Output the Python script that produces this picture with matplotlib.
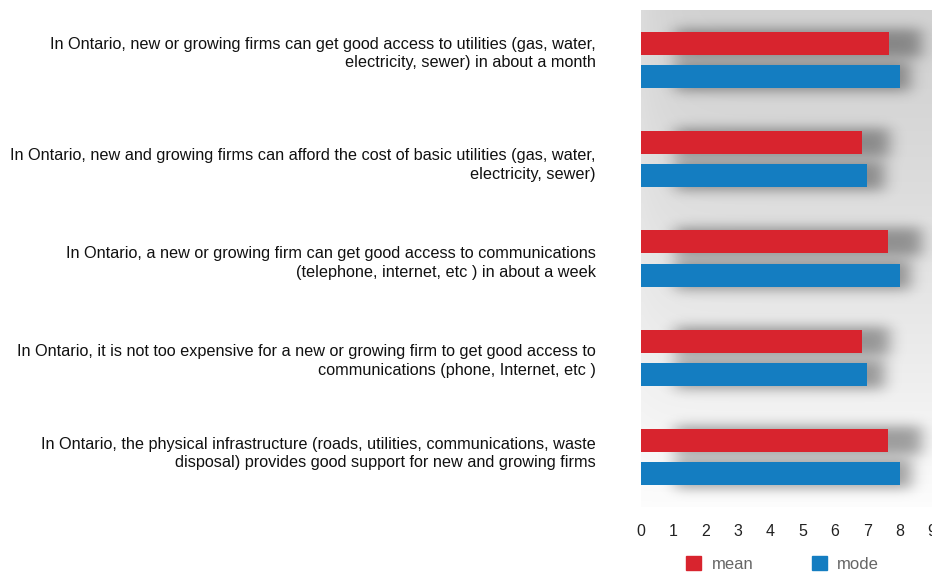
import numpy as np
import math
import matplotlib
matplotlib.use("Agg")
import matplotlib.pyplot as plt
from matplotlib.patches import Patch

categories = [
    "In Ontario, new or growing firms can get good access to utilities (gas, water,\nelectricity, sewer) in about a month",
    "In Ontario, new and growing firms can afford the cost of basic utilities (gas, water,\nelectricity, sewer)",
    "In Ontario, a new or growing firm can get good access to communications\n(telephone, internet, etc ) in about a week",
    "In Ontario, it is not too expensive for a new or growing firm to get good access to\ncommunications (phone, Internet, etc )",
    "In Ontario, the physical infrastructure (roads, utilities, communications, waste\ndisposal) provides good support for new and growing firms",
]
mean_values = [7.68, 6.84, 7.65, 6.84, 7.65]
mode_values = [8, 7, 8, 7, 8]
series_names = ["mean", "mode"]
x_ticks = [0, 1, 2, 3, 4, 5, 6, 7, 8, 9]

RED = "#d8242e"
BLUE = "#147dc1"

plt.rcParams['font.family'] = ['Liberation Sans', 'DejaVu Sans']

W, H = 932, 573
fig = plt.figure(figsize=(W / 100, H / 100), dpi=100)
ax_left, ax_right = 641 / W, 932 / W
ax_top, ax_bottom = 1 - 10 / H, 1 - 507 / H
ax = fig.add_axes([ax_left, ax_bottom, ax_right - ax_left, ax_top - ax_bottom])
xmin, xmax = 0, 9
ymin, ymax = 4.5, -0.5
ax.set_xlim(xmin, xmax)
ax.set_ylim(ymin, ymax)

# background gradient
gy = np.linspace(0, 1, 256)[:, None]
gx = np.linspace(0, 1, 64)[None, :]
level = 0.82 + 0.17 * gy ** 1.3 + 0.04 * np.exp(-gx / 0.08) * (1 - gy)
level = np.clip(level, 0, 1)
bg = np.dstack([level, level, level])
ax.imshow(bg, extent=(0, 1, 0, 1), transform=ax.transAxes, aspect='auto',
          origin='upper', zorder=0, interpolation='bilinear')

# shadows
ypos = np.arange(len(categories))
bar_h = 0.23
off = 0.167
px_x = (xmax - xmin) / (932 - 641)
px_y = (ymin - ymax) / 497.0
sx, sy = 8 * px_x, 6 * px_y
dx_left, dx_right = 34 * px_x, 22 * px_x
XX = np.linspace(xmin, xmax, 700)
YY = np.linspace(ymax, ymin, 700)
erf = np.vectorize(math.erf)

def blurred(a, b, x, s):
    return 0.5 * (erf((x - a) / (math.sqrt(2) * s)) - erf((x - b) / (math.sqrt(2) * s)))

trans = np.ones((len(YY), len(XX)))
for vals, o in ((mean_values, -off), (mode_values, off)):
    for i, v in enumerate(vals):
        fx = blurred(dx_left, v + dx_right, XX, sx)
        fy = blurred(i + o - bar_h / 2 - 3 * px_y, i + o + bar_h / 2 + 3 * px_y, YY, sy)
        trans *= 1 - 0.36 * np.outer(fy, fx)
rgba = np.zeros((len(YY), len(XX), 4))
rgba[..., 3] = 1 - trans
ax.imshow(rgba, extent=(xmin, xmax, ymin, ymax), aspect='auto', origin='lower',
          zorder=1, interpolation='bilinear')

ax.barh(ypos - off, mean_values, height=bar_h, color=RED, zorder=2)
ax.barh(ypos + off, mode_values, height=bar_h, color=BLUE, zorder=2)

# category labels (text, slightly nudged as in the reference)
label_dy_px = [-6.5, 6, 4.5, 3, -4]
ax.set_yticks(ypos)
ax.set_yticklabels([])
for i, lab in enumerate(categories):
    ax.annotate(lab, xy=(0, i), xycoords=('axes fraction', 'data'),
                xytext=(-45, -label_dy_px[i]), textcoords='offset pixels',
                ha='right', va='center', fontsize=11.7, color="#111111",
                linespacing=1.27, annotation_clip=False)

ax.set_xticks(x_ticks)
ax.set_xticklabels([str(t) for t in x_ticks], fontsize=11.5, color="#222222")
ax.tick_params(axis='y', length=0)
ax.tick_params(axis='x', length=0, pad=12)
for s in ax.spines.values():
    s.set_visible(False)
ax.set_xlim(xmin, xmax)
ax.set_ylim(ymin, ymax)

handles = [Patch(color=RED), Patch(color=BLUE)]
leg = fig.legend(handles, series_names, loc='center', bbox_to_anchor=(0.840, 1 - 564 / H),
                 ncol=2, frameon=False, fontsize=12, handlelength=0.85, handleheight=0.85,
                 handletextpad=0.65, columnspacing=3.55, borderaxespad=0)
for t in leg.get_texts():
    t.set_color("#666666")

fig.savefig("out.png", dpi=100)
